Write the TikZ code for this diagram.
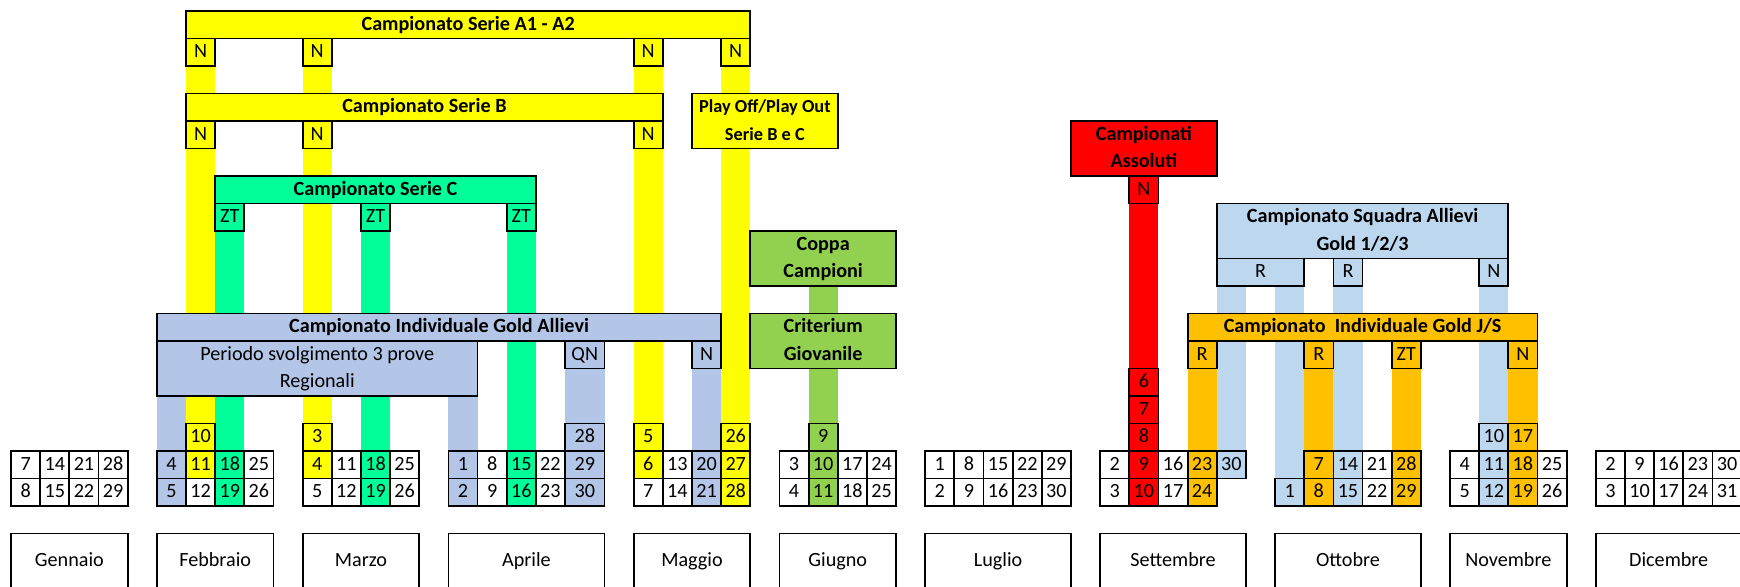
\documentclass[tikz,border=0pt]{standalone}
\usepackage{fontspec}
\setmainfont{Carlito}
\usetikzlibrary{backgrounds}

\definecolor{giallo}{HTML}{FFFF00}
\definecolor{verdeC}{HTML}{00FF99}
\definecolor{lilla}{HTML}{B4C6E7}
\definecolor{verde}{HTML}{92D050}
\definecolor{rosso}{HTML}{FF0000}
\definecolor{celeste}{HTML}{BDD7EE}
\definecolor{arancio}{HTML}{FFC000}

\def\cw{15.907pt}
\def\rh{15pt}
% colonna 19 (fine aprile) piu larga
\pgfmathdeclarefunction{cx}{1}{\pgfmathparse{(#1)+0.354*((#1)>19.5)}}

\tikzset{
  cella/.style={draw, line width=1pt, inner sep=0pt, outer sep=0pt, font=\fontsize{11}{15}\selectfont},
  titolo/.style={font=\fontsize{11}{15}\selectfont\bfseries},
  barra/.style={line width=\cw},
}

% [stile]{nome}{colore}{col da}{col a}{riga da}{riga a}{testo}
\newcommand\riquadro[8][]{%
  \node[cella, #1, fill=#3, minimum width={(cx(#5)-cx(#4))*\cw}, minimum height={((#7)-(#6))*\rh}]
    (#2) at ({(cx(#4)+cx(#5))/2},{((#6)+(#7))/2}) {\begin{tabular}{@{}c@{}}#8\end{tabular}};}
\newcommand\giorno[4]{\riquadro{g-#1-#2}{#3}{#1}{#1+1}{#2}{#2+1}{#4}}

\begin{document}
\begin{tikzpicture}[x=\cw, y=-\rh]
	\useasboundingbox (-0.38,-0.403) rectangle (59.30,20.94);
	% Serie A1 - A2, B, C
		\riquadro[titolo]{a1}{giallo}{6}{25}{0}{1}{Campionato Serie A1 - A2}
		\foreach \c [count=\i] in {6,10,21,24} {\riquadro{a1n\i}{giallo}{\c}{\c+1}{1}{2}{N}}
		\riquadro[titolo]{b}{giallo}{6}{22}{3}{4}{Campionato Serie B}
		\foreach \c [count=\i] in {6,10,21} {\riquadro{bn\i}{giallo}{\c}{\c+1}{4}{5}{N}}
		\riquadro[font=\fontsize{10}{15}\selectfont\bfseries]{playoff}{giallo}{23}{28}{3}{5}{Play Off/Play Out\\Serie B e C}
		\riquadro[titolo]{c}{verdeC}{7}{18}{6}{7}{Campionato Serie C}
		\foreach \c [count=\i] in {7,12,17} {\riquadro{czt\i}{verdeC}{\c}{\c+1}{7}{8}{ZT}}
	% Gold Allievi
		\riquadro[titolo]{allievi}{lilla}{5}{24}{11}{12}{Campionato Individuale Gold Allievi}
		\riquadro{periodo}{lilla}{5}{16}{12}{14}{Periodo svolgimento 3 prove\\Regionali}
		\riquadro{qn}{lilla}{19}{20}{12}{13}{QN}
		\riquadro{allievin}{lilla}{23}{24}{12}{13}{N}
	% Coppa e Criterium
		\riquadro[titolo]{coppa}{verde}{25}{30}{8}{10}{Coppa\\Campioni}
		\riquadro[titolo]{criterium}{verde}{25}{30}{11}{13}{Criterium\\Giovanile}
	% Assoluti
		\riquadro[titolo]{assoluti}{rosso}{36}{41}{4}{6}{Campionati\\Assoluti}
		\riquadro{assolutin}{rosso}{38}{39}{6}{7}{N}
	% Squadra Allievi e Gold J/S
		\riquadro[titolo]{squadra}{celeste}{41}{51}{7}{9}{Campionato Squadra Allievi\\Gold 1/2/3}
		\riquadro{sqr1}{celeste}{41}{44}{9}{10}{R}
		\riquadro{sqr2}{celeste}{45}{46}{9}{10}{R}
		\riquadro{sqn}{celeste}{50}{51}{9}{10}{N}
		\riquadro[titolo]{gold}{arancio}{40}{52}{11}{12}{Campionato~ Individuale Gold J/S}
		\foreach \c/\t [count=\i] in {40/R,44/R,47/ZT,51/N} {\riquadro{gold\i}{arancio}{\c}{\c+1}{12}{13}{\t}}
	% Calendario
		\foreach \c/\d/\fa/\fb in {0/7/white/white, 1/14/white/white, 2/21/white/white, 3/28/white/white,
			5/4/lilla/lilla, 6/11/giallo/white, 7/18/verdeC/verdeC, 8/25/white/white,
			10/4/giallo/white, 11/11/white/white, 12/18/verdeC/verdeC, 13/25/white/white,
			15/1/lilla/lilla, 16/8/white/white, 17/15/verdeC/verdeC, 18/22/white/white, 19/29/lilla/lilla,
			21/6/giallo/white, 22/13/white/white, 23/20/lilla/lilla, 24/27/giallo/giallo,
			26/3/white/white, 27/10/verde/verde, 28/17/white/white, 29/24/white/white,
			31/1/white/white, 32/8/white/white, 33/15/white/white, 34/22/white/white, 35/29/white/white,
			37/2/white/white, 38/9/rosso/rosso, 39/16/white/white, 40/23/arancio/arancio,
			44/7/arancio/arancio, 45/14/celeste/celeste, 46/21/white/white, 47/28/arancio/arancio,
			49/4/white/white, 50/11/celeste/celeste, 51/18/arancio/arancio, 52/25/white/white,
			54/2/white/white, 55/9/white/white, 56/16/white/white, 57/23/white/white, 58/30/white/white} {
			\pgfmathtruncatemacro\e{\d+1}
			\giorno{\c}{16}{\fa}{\d}
			\giorno{\c}{17}{\fb}{\e}
		}
		\giorno{41}{16}{celeste}{30}
		\giorno{43}{17}{celeste}{1}
		\foreach \c/\r/\f/\d in {6/15/giallo/10, 10/15/giallo/3, 19/15/lilla/28, 21/15/giallo/5, 24/15/giallo/26,
			27/15/verde/9, 38/13/rosso/6, 38/14/rosso/7, 38/15/rosso/8, 50/15/celeste/10, 51/15/arancio/17}
			{\giorno{\c}{\r}{\f}{\d}}
	% Mesi
		\foreach \m/\a/\b in {Gennaio/0/4, Febbraio/5/9, Marzo/10/14, Aprile/15/20, Maggio/21/25, Giugno/26/30,
			Luglio/31/36, Settembre/37/42, Ottobre/43/48, Novembre/49/53, Dicembre/54/59}
			{\riquadro{\m}{white}{\a}{\b}{19}{21}{\m}}
	% Barre
	\begin{scope}[on background layer]
		\foreach \i/\c in {1/6,2/10,3/21,4/24} {\draw[barra, giallo] (a1n\i.south) -- (g-\c-15.north);}
		\foreach \i/\c in {1/7,2/12,3/17} {\draw[barra, verdeC] (czt\i.south) -- (g-\c-16.north);}
		\draw[barra, lilla] (periodo.south -| g-5-16.north) -- (g-5-16.north);
		\draw[barra, lilla] (periodo.south -| g-15-16.north) -- (g-15-16.north);
		\draw[lilla, line width=21.54pt] (qn.south) -- (g-19-15.north);
		\draw[barra, lilla] (allievin.south) -- (g-23-16.north);
		\draw[barra, verde] (coppa.south) -- (g-27-15.north);
		\draw[barra, rosso] (assolutin.south) -- (g-38-13.north);
		\draw[barra, celeste] (sqr1.south -| g-41-16.north) -- (g-41-16.north);
		\draw[barra, celeste] (sqr1.south -| g-43-17.north) -- (g-43-17.north);
		\draw[barra, celeste] (sqr2.south) -- (g-45-16.north);
		\draw[barra, celeste] (sqn.south) -- (g-50-15.north);
		\foreach \i/\c/\r in {1/40/16,2/44/16,3/47/16,4/51/15} {\draw[barra, arancio] (gold\i.south) -- (g-\c-\r.north);}
	\end{scope}
\end{tikzpicture}
\end{document}
